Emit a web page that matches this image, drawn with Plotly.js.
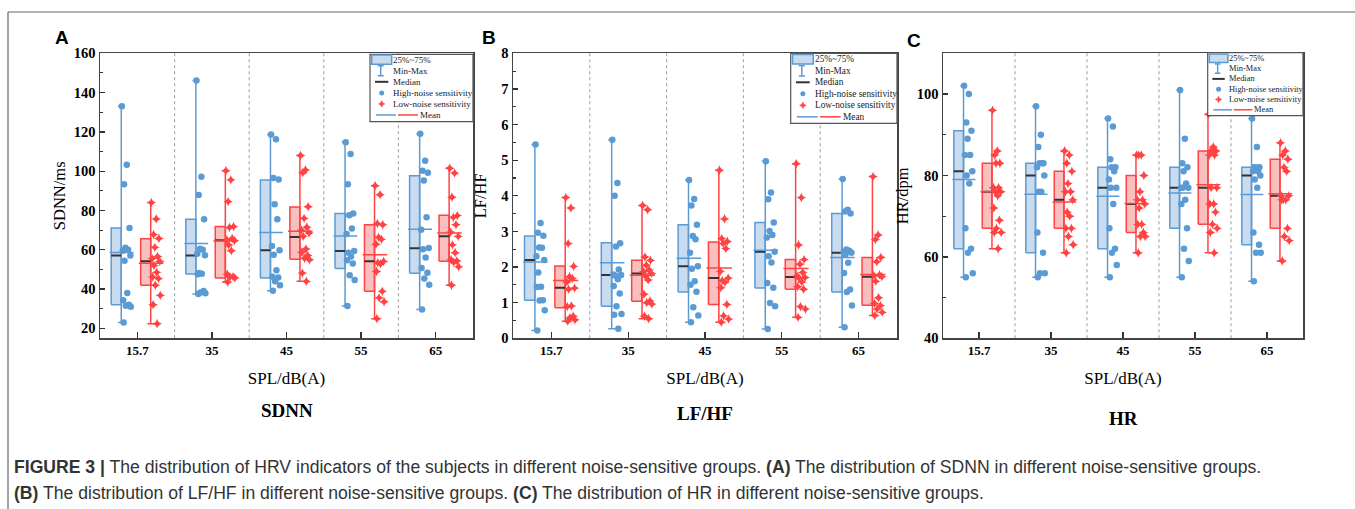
<!DOCTYPE html>
<html><head><meta charset="utf-8">
<script src="https://cdn.plot.ly/plotly-3.0.1.min.js"></script>
<style>html,body{margin:0;padding:0;background:#fff}#chart{width:1355px;height:509px}</style>
</head><body><div id="chart"></div>
<script>
// ---------------- DATA ----------------
const categories = ['15.7', '35', '45', '55', '65'];

// SDNN (ms)
const sdnnHigh = [
  [133, 103.3, 93.3, 71, 61, 60, 59.5, 57, 54.4, 38, 34.3, 32, 31.5, 31, 23],
  [146.2, 97.2, 87.9, 75.5, 60.5, 60, 58, 57.2, 48.2, 47.8, 47.5, 39, 38.2, 37.8, 37.4],
  [118.6, 116.2, 96.5, 95.8, 83.1, 75.5, 61.9, 59.7, 57.5, 49.5, 46.3, 45.9, 43.9, 41.9, 39.1],
  [114.7, 108.7, 93.3, 78.5, 77.5, 70.8, 68, 59.3, 58.5, 56.5, 54.6, 53, 47, 44.6, 31.3],
  [119.1, 105.3, 100.2, 99.2, 95.2, 76.5, 70.2, 60.9, 60.2, 56.1, 50.7, 48.3, 45.3, 42.2, 29.5]
];
const sdnnLow = [
  [84, 75.7, 67.7, 65.7, 61.2, 56.5, 55.5, 54, 52, 48.5, 46.2, 45.3, 41.9, 36.8, 32, 22.3],
  [100.2, 95.6, 84.5, 71.8, 71.3, 65.8, 65, 64.6, 62.4, 59.5, 47.5, 46.3, 46, 45.6, 43.5],
  [108, 100.6, 99.2, 81.9, 76, 71.5, 70, 68.5, 66.8, 60.4, 58.7, 57.1, 55.6, 54.9, 48.1, 43.9],
  [92.6, 88, 73.3, 72.7, 66.3, 65.3, 62.8, 54.1, 53.4, 52.9, 48.9, 38.8, 35.5, 33.5, 24.9],
  [101.5, 99, 86.7, 77.4, 76.5, 72.7, 69, 66.8, 62.5, 58.5, 55, 54.3, 53.6, 51.3, 41.9]
];
const sdnnHighQ1 = [32, 47.6, 45.6, 50.5, 48];
const sdnnHighMedian = [57, 57.1, 59.7, 59.3, 60.8];
const sdnnHighQ3 = [71, 75.5, 95.5, 78.5, 97.7];
const sdnnHighMean = [58.6, 63.2, 68.8, 67, 70.4];
const sdnnLowQ1 = [41.9, 45.6, 55.1, 38.8, 54.1];
const sdnnLowMedian = [54.1, 64.8, 66.5, 54.1, 66.8];
const sdnnLowQ3 = [65.6, 71.8, 81.8, 72.7, 77.5];
const sdnnLowMean = [53.1, 64.4, 69.4, 57.5, 68.5];

// LF/HF
const lfhfHigh = [
  [5.44, 3.24, 2.96, 2.88, 2.55, 2.54, 2.3, 2.2, 1.85, 1.45, 1.44, 1.07, 1.06, 0.79, 0.22],
  [5.57, 4.36, 4.0, 2.67, 2.58, 1.93, 1.79, 1.78, 1.76, 1.66, 1.47, 1.26, 0.9, 0.68, 0.66, 0.27],
  [4.44, 3.91, 3.73, 3.19, 2.87, 2.78, 2.4, 2.02, 1.95, 1.6, 1.5, 1.31, 0.87, 0.64, 0.45],
  [4.97, 4.09, 3.9, 3.25, 3.01, 2.9, 2.83, 2.43, 2.3, 2.13, 1.55, 1.42, 0.99, 0.9, 0.26],
  [4.47, 3.61, 3.56, 3.5, 2.49, 2.46, 2.42, 2.4, 2.35, 2.12, 1.83, 1.37, 1.3, 0.92, 0.31]
];
const lfhfLow = [
  [3.95, 3.66, 2.66, 2.02, 1.73, 1.68, 1.58, 1.41, 1.38, 0.91, 0.89, 0.62, 0.58, 0.52, 0.48],
  [3.73, 3.61, 2.28, 2.19, 2.05, 1.92, 1.87, 1.82, 1.75, 1.64, 1.24, 1.05, 1.0, 0.96, 0.62, 0.55],
  [4.72, 3.35, 2.8, 2.72, 2.66, 2.52, 1.88, 1.69, 1.62, 1.57, 1.42, 0.95, 0.63, 0.54, 0.45],
  [4.9, 3.95, 2.62, 2.21, 2.08, 1.85, 1.75, 1.71, 1.69, 1.58, 1.45, 1.38, 0.89, 0.82, 0.59],
  [4.54, 2.9, 2.77, 2.27, 2.15, 1.78, 1.76, 1.73, 1.6, 1.14, 0.98, 0.92, 0.82, 0.73, 0.64]
];
const lfhfHighQ1 = [1.07, 0.9, 1.3, 1.41, 1.3];
const lfhfHighMedian = [2.2, 1.78, 2.02, 2.43, 2.4];
const lfhfHighQ3 = [2.87, 2.68, 3.19, 3.25, 3.5];
const lfhfHighMean = [2.14, 2.12, 2.25, 2.47, 2.27];
const lfhfLowQ1 = [0.86, 1.04, 0.95, 1.38, 0.93];
const lfhfLowMedian = [1.42, 1.82, 1.69, 1.72, 1.73];
const lfhfLowQ3 = [2.03, 2.19, 2.7, 2.21, 2.27];
const lfhfLowMean = [1.62, 1.77, 1.97, 1.96, 1.79];

// HR (dpm)
const hrHigh = [
  [102, 100, 93, 91, 89, 85, 85, 81, 80, 78, 67, 62, 61, 56, 55],
  [97, 90, 87, 83, 83, 83, 82, 80, 76, 76, 66, 61, 56, 56, 55],
  [94, 92, 84, 82, 82, 81, 79, 77, 77, 73, 67, 62, 61, 58, 55],
  [101, 89, 83, 82, 81, 78, 77, 77, 77, 74, 73, 67, 62, 59, 55],
  [94, 87, 82, 82, 82, 81, 81, 80, 79, 77, 66, 63, 61, 61, 54]
];
const hrLow = [
  [96, 86, 85, 83, 83, 77, 77, 76, 76, 75, 72, 69, 67, 66, 66, 62],
  [86, 85, 83, 81, 78, 76, 76, 74, 71, 70, 67, 67, 65, 63, 61],
  [85, 85, 85, 80, 76, 74, 74, 73, 72, 68, 68, 66, 65, 65, 61],
  [95, 87, 86, 86, 86, 85, 85, 77, 77, 73, 73, 71, 68, 67, 66, 61],
  [88, 86, 85, 84, 82, 81, 75, 75, 74, 74, 74, 67, 65, 64, 59]
];
const hrHighQ1 = [62, 61, 62, 67, 63];
const hrHighMedian = [81, 80, 77, 77, 80];
const hrHighQ3 = [91, 83, 82, 82, 82];
const hrHighMean = [79, 75.4, 74.9, 75.7, 75.3];
const hrLowQ1 = [67, 67, 66, 68, 67];
const hrLowMedian = [76, 74, 73, 77, 75];
const hrLowQ3 = [83, 81, 80, 86, 84];
const hrLowMean = [76, 73.5, 73.1, 77.7, 75.5];

// ---------------- LAYOUT HELPERS ----------------
const FIG_W = 1355, FIG_H = 509;
const X = p => p / FIG_W;
const Y = p => 1 - p / FIG_H;
const SERIF = 'Liberation Serif, Times New Roman, serif';
const SANS = 'Liberation Sans, Arial, sans-serif';

const BLUE = '#5b9bd5', BLUE_FILL = '#c9dbef';
const RED = '#ff4343', RED_FILL = '#f9bebe';

const STYLE = {
  high: {boxL: -0.35, boxR: -0.215, meanL: -0.37, meanR: -0.05, line: BLUE, fill: BLUE_FILL, symbol: 'circle', msize: 6.5},
  low:  {boxL: 0.045, boxR: 0.18, meanL: 0.02, meanR: 0.35, line: RED, fill: RED_FILL, symbol: 'star-diamond', msize: 7}
};
const JITTER = [0.0, 0.55, 0.25, 0.85, 0.4, 0.7, 0.1, 0.95, 0.3, 0.6, 0.15, 0.8, 0.45, 1.0, 0.2, 0.65];

const panels = [
  {letter: 'A', name: 'SDNN', ytitle: 'SDNN/ms', left: 100, right: 473, yrange: [14.9, 160], dtick: 20, tick0: 20, minor: 10, ystand: 4,
   high: {pts: sdnnHigh, q1: sdnnHighQ1, med: sdnnHighMedian, q3: sdnnHighQ3, mean: sdnnHighMean},
   low: {pts: sdnnLow, q1: sdnnLowQ1, med: sdnnLowMedian, q3: sdnnLowQ3, mean: sdnnLowMean},
   leg: {L: 370, T: 54.3, H: 67.4, rs: 11.06, r1: 5.4, fs: 9},
   letterPos: [62, 38], subY: 410},
  {letter: 'B', name: 'LF/HF', ytitle: 'LF/HF', left: 513, right: 897, yrange: [0, 8], dtick: 1, tick0: 0, minor: 0.5, ystand: 10,
   high: {pts: lfhfHigh, q1: lfhfHighQ1, med: lfhfHighMedian, q3: lfhfHighQ3, mean: lfhfHighMean},
   low: {pts: lfhfLow, q1: lfhfLowQ1, med: lfhfLowMedian, q3: lfhfLowQ3, mean: lfhfLowMean},
   leg: {L: 790.7, T: 53.3, H: 70, rs: 11.5, r1: 6, fs: 9.3},
   letterPos: [489, 38], subY: 413},
  {letter: 'C', name: 'HR', ytitle: 'HR/dpm', left: 943, right: 1303, yrange: [40, 110], dtick: 20, tick0: 40, minor: 10, ystand: 4,
   high: {pts: hrHigh, q1: hrHighQ1, med: hrHighMedian, q3: hrHighQ3, mean: hrHighMean},
   low: {pts: hrLow, q1: hrLowQ1, med: hrLowMedian, q3: hrLowQ3, mean: hrLowMean},
   leg: {L: 1207.7, T: 52.7, H: 63, rs: 10.3, r1: 5.6, fs: 8.4},
   letterPos: [914, 40], subY: 418}
];
const PLOT_TOP = 53.3, PLOT_BOTTOM = 338.3;

const traces = [];
const shapes = [];
const annotations = [];
const layout = {
  width: FIG_W, height: FIG_H, margin: {l: 0, r: 0, t: 0, b: 0},
  paper_bgcolor: '#fff', plot_bgcolor: '#fff', showlegend: false,
  font: {family: SERIF, color: '#000'}
};

function groupTraces(g, st, xa, ya) {
  const n = g.q1.length;
  const bx = [], by = [], wx = [], wy = [], mx = [], my = [], ax = [], ay = [], px = [], py = [];
  const cap = 0.045;
  for (let i = 0; i < n; i++) {
    const lo = Math.min(...g.pts[i]), hi = Math.max(...g.pts[i]);
    bx.push(i + st.boxL, i + st.boxR, i + st.boxR, i + st.boxL, i + st.boxL, null);
    by.push(g.q1[i], g.q1[i], g.q3[i], g.q3[i], g.q1[i], null);
    wx.push(i + st.boxR, i + st.boxR, null, i + st.boxR - cap, i + st.boxR + cap, null, i + st.boxR - cap, i + st.boxR + cap, null);
    wy.push(lo, hi, null, lo, lo, null, hi, hi, null);
    mx.push(i + st.boxL, i + st.boxR, null);
    my.push(g.med[i], g.med[i], null);
    ax.push(i + st.meanL, i + st.meanR, null);
    ay.push(g.mean[i], g.mean[i], null);
    g.pts[i].forEach((v, k) => { px.push(i + st.boxR + 0.008 + JITTER[k % JITTER.length] * 0.12); py.push(v); });
  }
  const base = {xaxis: xa, yaxis: ya, hoverinfo: 'skip', showlegend: false};
  traces.push(Object.assign({type: 'scatter', mode: 'lines', x: bx, y: by, fill: 'toself', fillcolor: st.fill, line: {color: st.line, width: 1.5}}, base));
  traces.push(Object.assign({type: 'scatter', mode: 'lines', x: wx, y: wy, line: {color: st.line, width: 1.5}}, base));
  traces.push(Object.assign({type: 'scatter', mode: 'lines', x: mx, y: my, line: {color: '#333', width: 2}}, base));
  traces.push(Object.assign({type: 'scatter', mode: 'lines', x: ax, y: ay, line: {color: st.line, width: 1.5}}, base));
  traces.push(Object.assign({type: 'scatter', mode: 'markers', x: px, y: py, marker: {color: st.line, size: st.msize, symbol: st.symbol, line: {width: 0}}}, base));
}

function addLegend(p) {
  const c = p.leg, L = c.L, R = p.right, s = c.rs / 11.06;
  const row = k => c.T + c.r1 + k * c.rs;
  shapes.push({type: 'rect', xref: 'paper', yref: 'paper', x0: X(L), x1: X(R), y0: Y(c.T + c.H), y1: Y(c.T), fillcolor: '#fff', line: {color: '#555', width: 1.2}});
  shapes.push({type: 'rect', xref: 'paper', yref: 'paper', x0: X(L + 1.7 * s), x1: X(L + 21.7 * s), y0: Y(row(0) + 4.6 * s), y1: Y(row(0) - 4.6 * s), fillcolor: BLUE_FILL, line: {color: BLUE, width: 1.5}});
  const wx = L + 10.7 * s;
  const ln = (x0, y0, x1, y1, color, w) => shapes.push({type: 'line', xref: 'paper', yref: 'paper', x0: X(x0), x1: X(x1), y0: Y(y0), y1: Y(y1), line: {color: color, width: w}});
  ln(wx, row(1) - 5 * s, wx, row(1) + 5 * s, BLUE, 1.5);
  ln(wx - 3 * s, row(1) - 5 * s, wx + 3 * s, row(1) - 5 * s, BLUE, 1.5);
  ln(wx - 3 * s, row(1) + 5 * s, wx + 3 * s, row(1) + 5 * s, BLUE, 1.5);
  ln(L + 5 * s, row(2), L + 18.3 * s, row(2), '#333', 2);
  const cx = L + 11.7 * s;
  shapes.push({type: 'circle', xref: 'paper', yref: 'paper', x0: X(cx - 2.5), x1: X(cx + 2.5), y0: Y(row(3) + 2.5), y1: Y(row(3) - 2.5), fillcolor: BLUE, line: {width: 0}});
  const cy = row(4), r = 3.2, q = 1.1;
  const pts = [[cx, cy - r], [cx + q, cy - q], [cx + r, cy], [cx + q, cy + q], [cx, cy + r], [cx - q, cy + q], [cx - r, cy], [cx - q, cy - q]];
  shapes.push({type: 'path', xref: 'paper', yref: 'paper', path: 'M' + pts.map(a => X(a[0]) + ',' + Y(a[1])).join(' L') + ' Z', fillcolor: RED, line: {color: RED, width: 0.5}});
  ln(L + 6 * s, row(5), L + 26 * s, row(5), BLUE, 1.5);
  ln(L + 28 * s, row(5), L + 48 * s, row(5), RED, 1.5);
  const labels = ['25%~75%', 'Min-Max', 'Median', 'High-noise sensitivity', 'Low-noise sensitivity'];
  labels.forEach((t, k) => annotations.push({xref: 'paper', yref: 'paper', x: X(L + 22 * s), y: Y(row(k)), xanchor: 'left', yanchor: 'middle', text: t, showarrow: false, borderpad: 0, font: {family: SERIF, size: c.fs, color: '#1a1a1a'}}));
  annotations.push({xref: 'paper', yref: 'paper', x: X(L + 49 * s), y: Y(row(5)), xanchor: 'left', yanchor: 'middle', text: 'Mean', showarrow: false, borderpad: 0, font: {family: SERIF, size: c.fs, color: '#1a1a1a'}});
}

panels.forEach((p, idx) => {
  const sfx = idx === 0 ? '' : String(idx + 1);
  const xa = 'x' + sfx, ya = 'y' + sfx;
  layout['xaxis' + sfx] = {
    domain: [X(p.left), X(p.right)], anchor: ya, range: [-0.5, categories.length - 0.5],
    tickmode: 'array', tickvals: categories.map((c, i) => i), ticktext: categories,
    ticks: 'inside', ticklen: 6, tickwidth: 1.3, tickcolor: '#333',
    showline: true, linecolor: '#444', linewidth: 1.5, mirror: true,
    showgrid: false, zeroline: false, fixedrange: true,
    tickfont: {family: SERIF, size: 13, color: '#000', weight: 'bold'},
    title: {text: 'SPL/dB(A)', font: {family: SERIF, size: 17, color: '#000'}, standoff: 14}
  };
  layout['yaxis' + sfx] = {
    domain: [Y(PLOT_BOTTOM), Y(PLOT_TOP)], anchor: xa, range: p.yrange,
    tick0: p.tick0, dtick: p.dtick,
    ticks: 'inside', ticklen: 5, tickwidth: 1.3, tickcolor: '#333',
    minor: {ticks: 'inside', ticklen: 3, tickwidth: 1.1, tickcolor: '#333', dtick: p.minor, tick0: p.tick0},
    showline: true, linecolor: '#444', linewidth: 1.5, mirror: true,
    showgrid: false, zeroline: false, fixedrange: true,
    tickfont: {family: SERIF, size: 14.5, color: '#000', weight: 'bold'},
    title: {text: p.ytitle, font: {family: SERIF, size: 16.5, color: '#000'}, standoff: p.ystand}
  };
  for (let i = 0; i < categories.length - 1; i++) {
    shapes.push({type: 'line', xref: xa, yref: ya + ' domain', x0: i + 0.5, x1: i + 0.5, y0: 0, y1: 1, layer: 'below', line: {color: '#a5a5a5', width: 1.1, dash: 'dot'}});
  }
  groupTraces(p.high, STYLE.high, xa, ya);
  groupTraces(p.low, STYLE.low, xa, ya);
  addLegend(p);
  annotations.push({xref: 'paper', yref: 'paper', x: X(p.letterPos[0]), y: Y(p.letterPos[1]), xanchor: 'center', yanchor: 'middle', text: '<b>' + p.letter + '</b>', showarrow: false, font: {family: SANS, size: 19, color: '#000'}});
  annotations.push({xref: 'paper', yref: 'paper', x: X((p.left + p.right) / 2), y: Y(p.subY), xanchor: 'center', yanchor: 'middle', text: '<b>' + p.name + '</b>', showarrow: false, font: {family: SERIF, size: 19, color: '#000'}});
});

// figure frame
shapes.push({type: 'line', xref: 'paper', yref: 'paper', x0: X(8), x1: X(1355), y0: Y(12), y1: Y(12), line: {color: '#666', width: 1.2}});
shapes.push({type: 'line', xref: 'paper', yref: 'paper', x0: X(8), x1: X(8), y0: Y(12), y1: Y(509), line: {color: '#666', width: 1.2}});

// caption
annotations.push({xref: 'paper', yref: 'paper', x: X(12), y: Y(467), xanchor: 'left', yanchor: 'middle', showarrow: false,
  text: '<b>FIGURE 3 |</b> The distribution of HRV indicators of the subjects in different noise-sensitive groups. <b>(A)</b> The distribution of SDNN in different noise-sensitive groups.',
  font: {family: SANS, size: 17.6, color: '#333'}});
annotations.push({xref: 'paper', yref: 'paper', x: X(12), y: Y(493), xanchor: 'left', yanchor: 'middle', showarrow: false,
  text: '<b>(B)</b> The distribution of LF/HF in different noise-sensitive groups. <b>(C)</b> The distribution of HR in different noise-sensitive groups.',
  font: {family: SANS, size: 17.6, color: '#333'}});

layout.shapes = shapes;
layout.annotations = annotations;

Plotly.newPlot('chart', traces, layout, {displayModeBar: false, staticPlot: true});
</script>
</body></html>
